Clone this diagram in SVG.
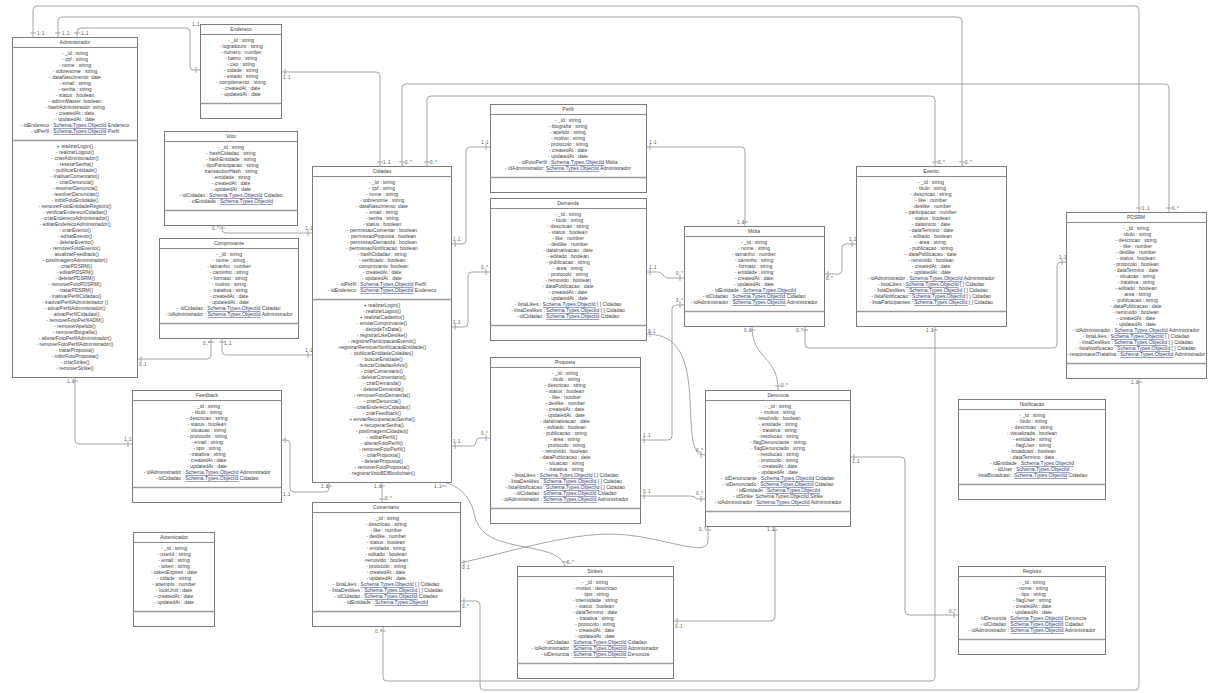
<svg xmlns="http://www.w3.org/2000/svg" width="1214" height="693" viewBox="0 0 1214 693">
<style>
.box{fill:#fff;stroke:#7a7a7a;stroke-width:1}
.sep{stroke:#8a8a8a;stroke-width:1}
.sep2{stroke:#9a9a9a;stroke-width:1.6}
text{font-family:"Liberation Sans",Arial,sans-serif;font-size:5px;fill:#3e3e3e;text-anchor:middle}
.r{text-decoration:underline;fill:#34407c}
.c{fill:none;stroke:#9a9a9a;stroke-width:0.9}
.m{font-size:4.6px;fill:#555;text-anchor:start}
</style>
<rect width="1214" height="693" fill="#fff"/>

<!-- associations -->
<g id="connectors">
<path class="c" d="M33,37 V10 Q33,6 37,6 H1135 Q1139,6 1139,10 V212 M30,33 H36 M1136,208 H1142"/>
<path class="c" d="M58,37 V21 Q58,17 62,17 H958 Q962,17 962,21 V166 M55,33 H61 M959,162 H965"/>
<path class="c" d="M77,37 V32 Q77,28 81,28 H186 Q190,28 190,32 V66 Q190,70 194,70 H200 M74,33 H80 M196,67 V73"/>
<path class="c" d="M281,72 H376 Q380,72 380,76 V166 M285,69 V75 M377,162 H383"/>
<path class="c" d="M402,166 V88 Q402,84 406,84 H1165 Q1169,84 1169,88 V212 M399,162 H405 M1166,208 H1172"/>
<path class="c" d="M427,166 V100 Q427,96 431,96 H931 Q935,96 935,100 V166 M424,162 H430 M932,162 H938"/>
<path class="c" d="M451,244 H462 Q466,244 466,240 V151 Q466,147 470,147 H490 M455,241 V247 M486,144 V150"/>
<path class="c" d="M451,327 H464 Q468,327 468,323 V276 Q468,272 472,272 H490 M455,324 V330 M486,269 V275"/>
<path class="c" d="M451,446 H472 Q476,446 476,442 Q476,438 480,438 H490 M455,443 V449 M486,435 V441"/>
<path class="c" d="M646,147 H741 Q745,147 745,151 V226 M650,144 V150 M742,222 H748"/>
<path class="c" d="M646,272 H658 C663,272 663,278 668,278 H684 M650,269 V275 M680,275 V281"/>
<path class="c" d="M640,440 H668 Q672,440 672,436 V309 Q672,305 676,305 H684 M644,437 V443 M680,302 V308"/>
<path class="c" d="M646,334 C680,334 688,360 690,400 C692,440 692,455 705,455 M650,331 V337 M701,452 V458"/>
<path class="c" d="M640,496 H690 Q695,496 697,499 H705 M644,493 V499 M701,496 V502"/>
<path class="c" d="M752,326 C752,360 778,355 778,390 M749,330 H755 M775,386 H781"/>
<path class="c" d="M824,274 H838 Q842,274 842,270 V248 Q842,244 846,244 H856 M828,271 V277 M852,241 V247"/>
<path class="c" d="M805,326 V344 Q805,348 809,348 H1053 Q1057,348 1057,344 V266 Q1057,262 1061,262 H1066 M802,330 H808 M1062,259 V265"/>
<path class="c" d="M935,326 V677 Q935,681 931,681 H387 Q383,681 383,677 V627 M932,330 H938 M380,631 H386"/>
<path class="c" d="M1139,378 V686 Q1139,690 1135,690 H484 Q480,690 480,686 V605 Q480,601 476,601 H460 M1136,382 H1142 M464,598 V604"/>
<path class="c" d="M75,377 V440 Q75,444 79,444 H132 M72,381 H78 M128,441 V447"/>
<path class="c" d="M281,440 H286 Q290,440 290,444 V488 Q290,492 294,492 H325 Q329,492 329,488 V482 M285,437 V443 M326,486 H332"/>
<path class="c" d="M222,225 V229 Q222,233 226,233 H312 M219,228 H225 M308,230 V236"/>
<path class="c" d="M137,359 H207 Q211,359 211,355 V338 M141,356 V362 M208,342 H214"/>
<path class="c" d="M222,338 V351 Q222,355 226,355 H312 M219,342 H225 M308,352 V358"/>
<path class="c" d="M382,482 V503 M379,486 H385 M379,499 H385"/>
<path class="c" d="M444,482 C458,486 470,495 474,513 C478,533 490,540 520,546 C545,551 560,553 565,566 M441,486 H447 M562,562 H568"/>
<path class="c" d="M460,563 C530,547 585,528 635,536 C680,543 708,556 708,540 V526 M464,560 V566 M705,530 H711"/>
<path class="c" d="M850,457 H901 Q905,457 905,461 V611 Q905,615 909,615 H958 M854,454 V460 M954,612 V618"/>
<path class="c" d="M673,621 H771 Q775,621 775,617 V526 M677,618 V624 M772,530 H778"/>
</g>

<!-- multiplicities -->
<g id="multiplicities">
<text class="m" x="37" y="35">1..1</text>
<text class="m" x="1142" y="210">1..1</text>
<text class="m" x="62" y="35">1..1</text>
<text class="m" x="965" y="164">0..*</text>
<text class="m" x="81" y="35">1..1</text>
<text class="m" x="192" y="26">1..1</text>
<text class="m" x="283" y="79">1..1</text>
<text class="m" x="383" y="164">1..1</text>
<text class="m" x="405" y="164">0..*</text>
<text class="m" x="1172" y="210">0..*</text>
<text class="m" x="430" y="164">0..*</text>
<text class="m" x="938" y="164">0..*</text>
<text class="m" x="453" y="241">1..1</text>
<text class="m" x="481" y="144">1..1</text>
<text class="m" x="453" y="324">1..1</text>
<text class="m" x="481" y="269">0..*</text>
<text class="m" x="453" y="443">1..1</text>
<text class="m" x="481" y="435">0..*</text>
<text class="m" x="649" y="144">1..1</text>
<text class="m" x="737" y="224">1..1</text>
<text class="m" x="649" y="269">1..1</text>
<text class="m" x="676" y="275">0..*</text>
<text class="m" x="643" y="437">1..1</text>
<text class="m" x="676" y="302">0..*</text>
<text class="m" x="648" y="333">0..1</text>
<text class="m" x="696" y="452">0..*</text>
<text class="m" x="643" y="493">0..1</text>
<text class="m" x="696" y="495">0..*</text>
<text class="m" x="744" y="332">0..1</text>
<text class="m" x="781" y="387">0..*</text>
<text class="m" x="826" y="280">0..*</text>
<text class="m" x="849" y="241">1..1</text>
<text class="m" x="796" y="332">0..*</text>
<text class="m" x="1059" y="259">1..1</text>
<text class="m" x="926" y="332">1..1</text>
<text class="m" x="375" y="633">0..*</text>
<text class="m" x="1131" y="384">1..1</text>
<text class="m" x="462" y="608">0..*</text>
<text class="m" x="67" y="383">1..1</text>
<text class="m" x="124" y="441">1..1</text>
<text class="m" x="283" y="496">1..1</text>
<text class="m" x="321" y="488">1..1</text>
<text class="m" x="212" y="230">0..*</text>
<text class="m" x="305" y="230">1..1</text>
<text class="m" x="139" y="366">0..1</text>
<text class="m" x="203" y="345">0..*</text>
<text class="m" x="224" y="345">1..1</text>
<text class="m" x="305" y="352">1..1</text>
<text class="m" x="374" y="488">1..1</text>
<text class="m" x="385" y="500">0..*</text>
<text class="m" x="434" y="488">1..1</text>
<text class="m" x="567" y="564">0..*</text>
<text class="m" x="462" y="569">0..1</text>
<text class="m" x="699" y="531">0..*</text>
<text class="m" x="852" y="463">1..1</text>
<text class="m" x="949" y="613">0..*</text>
<text class="m" x="675" y="628">0..1</text>
<text class="m" x="767" y="531">1..1</text>
</g>

<g id="administrador">
<rect class="box" x="12.5" y="37.5" width="125" height="340"/>
<line class="sep" x1="12.5" y1="47.5" x2="137.5" y2="47.5"/>
<line class="sep2" x1="12.5" y1="140.5" x2="137.5" y2="140.5"/>
<text x="75" y="44">Administrador</text>
<text x="75" y="49"><tspan x="75" dy="6">- _id : string</tspan><tspan x="75" dy="6">- cpf : string</tspan><tspan x="75" dy="6">- nome : string</tspan><tspan x="75" dy="6">- sobrenome : string</tspan><tspan x="75" dy="6">- dataNascimento: date</tspan><tspan x="75" dy="6">- email : string</tspan><tspan x="75" dy="6">- senha : string</tspan><tspan x="75" dy="6">- status : boolean</tspan><tspan x="75" dy="6">- adminMaster: boolean</tspan><tspan x="75" dy="6">- hashAdministrador: string</tspan><tspan x="75" dy="6">- createdAt : date</tspan><tspan x="75" dy="6">- updatedAt : date</tspan><tspan x="75" dy="6">- idEndereco : <tspan class="r">Schema.Types.ObjectId</tspan> Endereco</tspan><tspan x="75" dy="6">- idPerfil : <tspan class="r">Schema.Types.ObjectId</tspan> Perfil</tspan></text>
<text x="75" y="142"><tspan x="75" dy="6">+ realizarLogin()</tspan><tspan x="75" dy="6">- realizarLogout()</tspan><tspan x="75" dy="6">- criarAdministrador()</tspan><tspan x="75" dy="6">- resetarSenha()</tspan><tspan x="75" dy="6">- publicarEntidade()</tspan><tspan x="75" dy="6">- inativarComentario()</tspan><tspan x="75" dy="6">- criarDenuncia()</tspan><tspan x="75" dy="6">- resolverDenuncia()</tspan><tspan x="75" dy="6">- resolverDenuncias()</tspan><tspan x="75" dy="6">- inibirFotoEntidade()</tspan><tspan x="75" dy="6">- removerFotoEntidadeRegistro()</tspan><tspan x="75" dy="6">- verificarEnderecoCidadao()</tspan><tspan x="75" dy="6">- criarEnderecoAdministrador()</tspan><tspan x="75" dy="6">- editarEnderecoAdministrador()</tspan><tspan x="75" dy="6">- criarEvento()</tspan><tspan x="75" dy="6">- editarEvento()</tspan><tspan x="75" dy="6">- deletarEvento()</tspan><tspan x="75" dy="6">- removerFotoEvento()</tspan><tspan x="75" dy="6">- atualizarFeedback()</tspan><tspan x="75" dy="6">- postImagemAdministrador()</tspan><tspan x="75" dy="6">- criarPDSRM()</tspan><tspan x="75" dy="6">- editarPDSRM()</tspan><tspan x="75" dy="6">- deletarPDSRM()</tspan><tspan x="75" dy="6">- removerFotoPDSRM()</tspan><tspan x="75" dy="6">- tratarPDSRM()</tspan><tspan x="75" dy="6">- inativarPerfilCidadao()</tspan><tspan x="75" dy="6">- inativarPerfilAdministrador ()</tspan><tspan x="75" dy="6">- ativarPerfilAdministrador()</tspan><tspan x="75" dy="6">- ativarPerfilCidadao()</tspan><tspan x="75" dy="6">- removerFotoPerfilADM()</tspan><tspan x="75" dy="6">- removerApelido()</tspan><tspan x="75" dy="6">- removerBiografia()</tspan><tspan x="75" dy="6">- alterarFotoPerfilAdministrador()</tspan><tspan x="75" dy="6">- removerFotoPerfilAdministrador()</tspan><tspan x="75" dy="6">- tratarProposta()</tspan><tspan x="75" dy="6">- inibirFotoProposta()</tspan><tspan x="75" dy="6">- criarStrike()</tspan><tspan x="75" dy="6">- removerStrike()</tspan></text>
</g>

<g id="endereco">
<rect class="box" x="200.5" y="24.5" width="81" height="94"/>
<line class="sep" x1="200.5" y1="34.5" x2="281.5" y2="34.5"/>
<line class="sep2" x1="200.5" y1="103.5" x2="281.5" y2="103.5"/>
<text x="241" y="31">Endereco</text>
<text x="241" y="36"><tspan x="241" dy="6">- _id : string</tspan><tspan x="241" dy="6">- logradouro : string</tspan><tspan x="241" dy="6">- numero : number</tspan><tspan x="241" dy="6">- bairro : string</tspan><tspan x="241" dy="6">- cep : string</tspan><tspan x="241" dy="6">- cidade : string</tspan><tspan x="241" dy="6">- estado : string</tspan><tspan x="241" dy="6">- complemento : string</tspan><tspan x="241" dy="6">- createdAt : date</tspan><tspan x="241" dy="6">- updatedAt : date</tspan></text>
</g>

<g id="voto">
<rect class="box" x="164.5" y="131.5" width="133" height="94"/>
<line class="sep" x1="164.5" y1="141.5" x2="297.5" y2="141.5"/>
<line class="sep2" x1="164.5" y1="210.5" x2="297.5" y2="210.5"/>
<text x="231" y="138">Voto</text>
<text x="231" y="143"><tspan x="231" dy="6">- _id : string</tspan><tspan x="231" dy="6">- hashCidadao : string</tspan><tspan x="231" dy="6">- hashEntidade : string</tspan><tspan x="231" dy="6">- tipoParticipacao : string</tspan><tspan x="231" dy="6">transactionHash : string</tspan><tspan x="231" dy="6">- entidade : string</tspan><tspan x="231" dy="6">- createdAt : date</tspan><tspan x="231" dy="6">- updatedAt : date</tspan><tspan x="231" dy="6">- idCidadao : <tspan class="r">Schema.Types.ObjectId</tspan> Cidadao</tspan><tspan x="231" dy="6">- idEntidade : <tspan class="r">Schema.Types.ObjectId</tspan></tspan></text>
</g>

<g id="comprovante">
<rect class="box" x="159.5" y="238.5" width="139" height="100"/>
<line class="sep" x1="159.5" y1="248.5" x2="298.5" y2="248.5"/>
<line class="sep2" x1="159.5" y1="323.5" x2="298.5" y2="323.5"/>
<text x="229" y="245">Comprovante</text>
<text x="229" y="250"><tspan x="229" dy="6">- _id : string</tspan><tspan x="229" dy="6">- nome : string</tspan><tspan x="229" dy="6">- tamanho : number</tspan><tspan x="229" dy="6">- caminho : string</tspan><tspan x="229" dy="6">- formato : string</tspan><tspan x="229" dy="6">- motivo : string</tspan><tspan x="229" dy="6">- tratativa : string</tspan><tspan x="229" dy="6">- createdAt : date</tspan><tspan x="229" dy="6">- updatedAt : date</tspan><tspan x="229" dy="6">- idCidadao : <tspan class="r">Schema.Types.ObjectId</tspan> Cidadao</tspan><tspan x="229" dy="6">- idAdministrador : <tspan class="r">Schema.Types.ObjectId</tspan> Administrador</tspan></text>
</g>

<g id="cidadao">
<rect class="box" x="312.5" y="166.5" width="139" height="316"/>
<line class="sep" x1="312.5" y1="176.5" x2="451.5" y2="176.5"/>
<line class="sep2" x1="312.5" y1="299.5" x2="451.5" y2="299.5"/>
<text x="382" y="173">Cidadao</text>
<text x="382" y="178"><tspan x="382" dy="6">- _id : string</tspan><tspan x="382" dy="6">- cpf : string</tspan><tspan x="382" dy="6">- nome : string</tspan><tspan x="382" dy="6">- sobrenome : string</tspan><tspan x="382" dy="6">- dataNascimento: date</tspan><tspan x="382" dy="6">- email : string</tspan><tspan x="382" dy="6">- senha : string</tspan><tspan x="382" dy="6">- status : boolean</tspan><tspan x="382" dy="6">- permissaoComentar : boolean</tspan><tspan x="382" dy="6">- permissaoProposta : boolean</tspan><tspan x="382" dy="6">- permissaoDemanda : boolean</tspan><tspan x="382" dy="6">- permissaoNotificacao: boolean</tspan><tspan x="382" dy="6">- hashCidadao : string</tspan><tspan x="382" dy="6">- verificado : boolean</tspan><tspan x="382" dy="6">- comprovante: boolean</tspan><tspan x="382" dy="6">- createdAt : date</tspan><tspan x="382" dy="6">- updatedAt : date</tspan><tspan x="382" dy="6">- idPerfil : <tspan class="r">Schema.Types.ObjectId</tspan> Perfil</tspan><tspan x="382" dy="6">- idEndereco : <tspan class="r">Schema.Types.ObjectId</tspan> Endereco</tspan></text>
<text x="382" y="301"><tspan x="382" dy="6">+ realizarLogin()</tspan><tspan x="382" dy="6">- realizarLogout()</tspan><tspan x="382" dy="6">+ realizarCadastro()</tspan><tspan x="382" dy="6">- enviarComprovante()</tspan><tspan x="382" dy="6">- decodeTxData()</tspan><tspan x="382" dy="6">- registrarLikeDeslike()</tspan><tspan x="382" dy="6">- registrarParticipacaoEvento()</tspan><tspan x="382" dy="6">-registrarRemoverNotificacaoEntidade()</tspan><tspan x="382" dy="6">- publicarEntidadeCidadao()</tspan><tspan x="382" dy="6">- buscarEntidade()</tspan><tspan x="382" dy="6">- buscarCidadaoAtivo()</tspan><tspan x="382" dy="6">- criarComentario()</tspan><tspan x="382" dy="6">- deletarComentario()</tspan><tspan x="382" dy="6">- criarDemanda()</tspan><tspan x="382" dy="6">- deletarDemanda()</tspan><tspan x="382" dy="6">- removerFotoDemanda()</tspan><tspan x="382" dy="6">- criarDenuncia()</tspan><tspan x="382" dy="6">- criarEnderecoCidadao()</tspan><tspan x="382" dy="6">- criarFeedback()</tspan><tspan x="382" dy="6">+ enviarRecuperacaoSenha()</tspan><tspan x="382" dy="6">+ recuperarSenha()</tspan><tspan x="382" dy="6">- postImagemCidadao()</tspan><tspan x="382" dy="6">- editarPerfil()</tspan><tspan x="382" dy="6">- alterarFotoPerfil()</tspan><tspan x="382" dy="6">- removerFotoPerfil()</tspan><tspan x="382" dy="6">- criarProposta()</tspan><tspan x="382" dy="6">- deletarProposta()</tspan><tspan x="382" dy="6">- removerFotoProposta()</tspan><tspan x="382" dy="6">- registrarVotoBDBlockchain()</tspan></text>
</g>

<g id="perfil">
<rect class="box" x="490.5" y="104.5" width="156" height="88"/>
<line class="sep" x1="490.5" y1="114.5" x2="646.5" y2="114.5"/>
<line class="sep2" x1="490.5" y1="177.5" x2="646.5" y2="177.5"/>
<text x="568" y="111">Perfil</text>
<text x="568" y="116"><tspan x="568" dy="6">- _id : string</tspan><tspan x="568" dy="6">- biografia : string</tspan><tspan x="568" dy="6">- apelido : string</tspan><tspan x="568" dy="6">- motivo : string</tspan><tspan x="568" dy="6">- protocolo : string</tspan><tspan x="568" dy="6">- createdAt : date</tspan><tspan x="568" dy="6">- updatedAt : date</tspan><tspan x="568" dy="6">- idFotoPerfil : <tspan class="r">Schema.Types.ObjectId</tspan> Midia</tspan><tspan x="568" dy="6">- idAdministrador: <tspan class="r">Schema.Types.ObjectId</tspan> Administrador</tspan></text>
</g>

<g id="demanda">
<rect class="box" x="490.5" y="198.5" width="156" height="142"/>
<line class="sep" x1="490.5" y1="208.5" x2="646.5" y2="208.5"/>
<line class="sep2" x1="490.5" y1="325.5" x2="646.5" y2="325.5"/>
<text x="568" y="205">Demanda</text>
<text x="568" y="210"><tspan x="568" dy="6">- _id : string</tspan><tspan x="568" dy="6">- titulo : string</tspan><tspan x="568" dy="6">- descricao : string</tspan><tspan x="568" dy="6">- status : boolean</tspan><tspan x="568" dy="6">- like : number</tspan><tspan x="568" dy="6">- deslike : number</tspan><tspan x="568" dy="6">- dataInativacao : date</tspan><tspan x="568" dy="6">- editado : boolean</tspan><tspan x="568" dy="6">- publicacao : string</tspan><tspan x="568" dy="6">- area : string</tspan><tspan x="568" dy="6">- protocolo : string</tspan><tspan x="568" dy="6">- removido : boolean</tspan><tspan x="568" dy="6">- dataPublicacao : date</tspan><tspan x="568" dy="6">- createdAt : date</tspan><tspan x="568" dy="6">- updatedAt : date</tspan><tspan x="568" dy="6">- listaLikes : <tspan class="r">Schema.Types.ObjectId</tspan> [ ] Cidadao</tspan><tspan x="568" dy="6">- listaDeslikes : <tspan class="r">Schema.Types.ObjectId</tspan> [ ] Cidadao</tspan><tspan x="568" dy="6">- idCidadao : <tspan class="r">Schema.Types.ObjectId</tspan> Cidadao</tspan></text>
</g>

<g id="proposta">
<rect class="box" x="490.5" y="357.5" width="150" height="166"/>
<line class="sep" x1="490.5" y1="367.5" x2="640.5" y2="367.5"/>
<line class="sep2" x1="490.5" y1="508.5" x2="640.5" y2="508.5"/>
<text x="565" y="364">Proposta</text>
<text x="565" y="369"><tspan x="565" dy="6">- _id : string</tspan><tspan x="565" dy="6">- titulo : string</tspan><tspan x="565" dy="6">- descricao : string</tspan><tspan x="565" dy="6">- status : boolean</tspan><tspan x="565" dy="6">- like : number</tspan><tspan x="565" dy="6">- deslike : number</tspan><tspan x="565" dy="6">- createdAt : date</tspan><tspan x="565" dy="6">- updatedAt : date</tspan><tspan x="565" dy="6">- dataInativacao : date</tspan><tspan x="565" dy="6">- editado : boolean</tspan><tspan x="565" dy="6">- publicacao : string</tspan><tspan x="565" dy="6">- area : string</tspan><tspan x="565" dy="6">- protocolo : string</tspan><tspan x="565" dy="6">- removido : boolean</tspan><tspan x="565" dy="6">- dataPublicacao : date</tspan><tspan x="565" dy="6">- situacao : string</tspan><tspan x="565" dy="6">- tratativa : string</tspan><tspan x="565" dy="6">- listaLikes : <tspan class="r">Schema.Types.ObjectId</tspan> [ ] Cidadao</tspan><tspan x="565" dy="6">- listaDeslikes : <tspan class="r">Schema.Types.ObjectId</tspan> [ ] Cidadao</tspan><tspan x="565" dy="6">- listaNotificacao : <tspan class="r">Schema.Types.ObjectId</tspan> [ ] Cidadao</tspan><tspan x="565" dy="6">- idCidadao : <tspan class="r">Schema.Types.ObjectId</tspan> Cidadao</tspan><tspan x="565" dy="6">- idAdministrador : <tspan class="r">Schema.Types.ObjectId</tspan> Administrador</tspan></text>
</g>

<g id="midia">
<rect class="box" x="684.5" y="226.5" width="140" height="100"/>
<line class="sep" x1="684.5" y1="236.5" x2="824.5" y2="236.5"/>
<line class="sep2" x1="684.5" y1="311.5" x2="824.5" y2="311.5"/>
<text x="754" y="233">Midia</text>
<text x="754" y="238"><tspan x="754" dy="6">- _id : string</tspan><tspan x="754" dy="6">- nome : string</tspan><tspan x="754" dy="6">- tamanho : number</tspan><tspan x="754" dy="6">- caminho : string</tspan><tspan x="754" dy="6">- formato : string</tspan><tspan x="754" dy="6">- entidade : string</tspan><tspan x="754" dy="6">- createdAt : date</tspan><tspan x="754" dy="6">- updatedAt : date</tspan><tspan x="754" dy="6">- idEntidade : <tspan class="r">Schema.Types.ObjectId</tspan></tspan><tspan x="754" dy="6">- idCidadao : <tspan class="r">Schema.Types.ObjectId</tspan> Cidadao</tspan><tspan x="754" dy="6">- idAdministrador : <tspan class="r">Schema.Types.ObjectId</tspan> Administrador</tspan></text>
</g>

<g id="evento">
<rect class="box" x="856.5" y="166.5" width="150" height="160"/>
<line class="sep" x1="856.5" y1="176.5" x2="1006.5" y2="176.5"/>
<line class="sep2" x1="856.5" y1="311.5" x2="1006.5" y2="311.5"/>
<text x="931" y="173">Evento</text>
<text x="931" y="178"><tspan x="931" dy="6">- _id : string</tspan><tspan x="931" dy="6">- titulo : string</tspan><tspan x="931" dy="6">- descricao : string</tspan><tspan x="931" dy="6">- like : number</tspan><tspan x="931" dy="6">- deslike : number</tspan><tspan x="931" dy="6">- participacao : number</tspan><tspan x="931" dy="6">- status : boolean</tspan><tspan x="931" dy="6">- dataInicio : date</tspan><tspan x="931" dy="6">- dataTermino : date</tspan><tspan x="931" dy="6">- editado : boolean</tspan><tspan x="931" dy="6">- area : string</tspan><tspan x="931" dy="6">- publicacao : string</tspan><tspan x="931" dy="6">- dataPublicacao : date</tspan><tspan x="931" dy="6">- removido : boolean</tspan><tspan x="931" dy="6">- createdAt : date</tspan><tspan x="931" dy="6">- updatedAt : date</tspan><tspan x="931" dy="6">- idAdministrador : <tspan class="r">Schema.Types.ObjectId</tspan> Administrador</tspan><tspan x="931" dy="6">- listaLikes : <tspan class="r">Schema.Types.ObjectId</tspan> [ ] Cidadao</tspan><tspan x="931" dy="6">- listaDeslikes : <tspan class="r">Schema.Types.ObjectId</tspan> [ ] Cidadao</tspan><tspan x="931" dy="6">- listaNotificacao : <tspan class="r">Schema.Types.ObjectId</tspan> [ ] Cidadao</tspan><tspan x="931" dy="6">- listaParticipantes : <tspan class="r">Schema.Types.ObjectId</tspan> [ ] Cidadao</tspan></text>
</g>

<g id="pdsrm">
<rect class="box" x="1066.5" y="212.5" width="140" height="166"/>
<line class="sep" x1="1066.5" y1="222.5" x2="1206.5" y2="222.5"/>
<line class="sep2" x1="1066.5" y1="363.5" x2="1206.5" y2="363.5"/>
<text x="1136" y="219">PDSRM</text>
<text x="1136" y="224"><tspan x="1136" dy="6">- _id : string</tspan><tspan x="1136" dy="6">- titulo : string</tspan><tspan x="1136" dy="6">- descricao : string</tspan><tspan x="1136" dy="6">- like : number</tspan><tspan x="1136" dy="6">- deslike : number</tspan><tspan x="1136" dy="6">- status : boolean</tspan><tspan x="1136" dy="6">- protocolo : boolean</tspan><tspan x="1136" dy="6">- dataTermino : date</tspan><tspan x="1136" dy="6">- situacao : string</tspan><tspan x="1136" dy="6">- tratativa : string</tspan><tspan x="1136" dy="6">- editado : boolean</tspan><tspan x="1136" dy="6">- area : string</tspan><tspan x="1136" dy="6">- publicacao : string</tspan><tspan x="1136" dy="6">- dataPublicacao : date</tspan><tspan x="1136" dy="6">- removido : boolean</tspan><tspan x="1136" dy="6">- createdAt : date</tspan><tspan x="1136" dy="6">- updatedAt : date</tspan><tspan x="1136" dy="6">- idAdministrador : <tspan class="r">Schema.Types.ObjectId</tspan> Administrador</tspan><tspan x="1136" dy="6">- listaLikes : <tspan class="r">Schema.Types.ObjectId</tspan> [ ] Cidadao</tspan><tspan x="1136" dy="6">- listaDeslikes : <tspan class="r">Schema.Types.ObjectId</tspan> [ ] Cidadao</tspan><tspan x="1136" dy="6">- listaNotificacao : <tspan class="r">Schema.Types.ObjectId</tspan> [ ] Cidadao</tspan><tspan x="1136" dy="6">- responsavelTratativa : <tspan class="r">Schema.Types.ObjectId</tspan> Administrador</tspan></text>
</g>

<g id="denuncia">
<rect class="box" x="705.5" y="390.5" width="145" height="136"/>
<line class="sep" x1="705.5" y1="400.5" x2="850.5" y2="400.5"/>
<line class="sep2" x1="705.5" y1="511.5" x2="850.5" y2="511.5"/>
<text x="778" y="397">Denuncia</text>
<text x="778" y="402"><tspan x="778" dy="6">- _id : string</tspan><tspan x="778" dy="6">- motivo : string</tspan><tspan x="778" dy="6">- resolvido : boolean</tspan><tspan x="778" dy="6">- entidade : string</tspan><tspan x="778" dy="6">- tratativa : string</tspan><tspan x="778" dy="6">- resolucao : string</tspan><tspan x="778" dy="6">- flagDenunciante : string</tspan><tspan x="778" dy="6">- flagDenunciado : string</tspan><tspan x="778" dy="6">- resolucao : string</tspan><tspan x="778" dy="6">- protocolo : string</tspan><tspan x="778" dy="6">- createdAt : date</tspan><tspan x="778" dy="6">- updatedAt : date</tspan><tspan x="778" dy="6">- idDenunciante : <tspan class="r">Schema.Types.ObjectId</tspan> Cidadao</tspan><tspan x="778" dy="6">- idDenunciado : <tspan class="r">Schema.Types.ObjectId</tspan> Cidadao</tspan><tspan x="778" dy="6">- idEntidade : <tspan class="r">Schema.Types.ObjectId</tspan></tspan><tspan x="778" dy="6">- idStrike: Schema.Types.ObjectId Strike</tspan><tspan x="778" dy="6">- idAdministrador : <tspan class="r">Schema.Types.ObjectId</tspan> Administrador</tspan></text>
</g>

<g id="notificacao">
<rect class="box" x="958.5" y="399.5" width="147" height="100"/>
<line class="sep" x1="958.5" y1="409.5" x2="1105.5" y2="409.5"/>
<line class="sep2" x1="958.5" y1="484.5" x2="1105.5" y2="484.5"/>
<text x="1032" y="406">Notificacao</text>
<text x="1032" y="411"><tspan x="1032" dy="6">- _id : string</tspan><tspan x="1032" dy="6">- titulo : string</tspan><tspan x="1032" dy="6">- descricao : string</tspan><tspan x="1032" dy="6">- visualizada : boolean</tspan><tspan x="1032" dy="6">- entidade : string</tspan><tspan x="1032" dy="6">- flagUser : string</tspan><tspan x="1032" dy="6">- broadcast : boolean</tspan><tspan x="1032" dy="6">- dataTermino : date</tspan><tspan x="1032" dy="6">- idEntidade : <tspan class="r">Schema.Types.ObjectId</tspan></tspan><tspan x="1032" dy="6">- idUser : <tspan class="r">Schema.Types.ObjectId</tspan></tspan><tspan x="1032" dy="6">-listaBroadcast : <tspan class="r">Schema.Types.ObjectId</tspan> Cidadao</tspan></text>
</g>

<g id="registro">
<rect class="box" x="958.5" y="566.5" width="147" height="88"/>
<line class="sep" x1="958.5" y1="576.5" x2="1105.5" y2="576.5"/>
<line class="sep2" x1="958.5" y1="639.5" x2="1105.5" y2="639.5"/>
<text x="1032" y="573">Registro</text>
<text x="1032" y="578"><tspan x="1032" dy="6">- _id : string</tspan><tspan x="1032" dy="6">- nome : string</tspan><tspan x="1032" dy="6">- tipo : string</tspan><tspan x="1032" dy="6">- flagUser : string</tspan><tspan x="1032" dy="6">- createdAt : date</tspan><tspan x="1032" dy="6">- updatedAt : date</tspan><tspan x="1032" dy="6">- idDenuncia : <tspan class="r">Schema.Types.ObjectId</tspan> Denuncia</tspan><tspan x="1032" dy="6">- idCidadao : <tspan class="r">Schema.Types.ObjectId</tspan> Cidadao</tspan><tspan x="1032" dy="6">- idAdministrador : <tspan class="r">Schema.Types.ObjectId</tspan> Administrador</tspan></text>
</g>

<g id="feedback">
<rect class="box" x="132.5" y="390.5" width="149" height="112"/>
<line class="sep" x1="132.5" y1="400.5" x2="281.5" y2="400.5"/>
<line class="sep2" x1="132.5" y1="487.5" x2="281.5" y2="487.5"/>
<text x="207" y="397">Feedback</text>
<text x="207" y="402"><tspan x="207" dy="6">- _id : string</tspan><tspan x="207" dy="6">- titulo : string</tspan><tspan x="207" dy="6">- descricao : string</tspan><tspan x="207" dy="6">- status : boolean</tspan><tspan x="207" dy="6">- situacao : string</tspan><tspan x="207" dy="6">- protocolo : string</tspan><tspan x="207" dy="6">- email : string</tspan><tspan x="207" dy="6">- tipo : string</tspan><tspan x="207" dy="6">- tratativa : string</tspan><tspan x="207" dy="6">- createdAt : date</tspan><tspan x="207" dy="6">- updatedAt : date</tspan><tspan x="207" dy="6">- idAdministrador : <tspan class="r">Schema.Types.ObjectId</tspan> Administrador</tspan><tspan x="207" dy="6">- idCidadao : <tspan class="r">Schema.Types.ObjectId</tspan> Cidadao</tspan></text>
</g>

<g id="autenticador">
<rect class="box" x="133.5" y="532.5" width="81" height="94"/>
<line class="sep" x1="133.5" y1="542.5" x2="214.5" y2="542.5"/>
<line class="sep2" x1="133.5" y1="611.5" x2="214.5" y2="611.5"/>
<text x="174" y="539">Autenticador</text>
<text x="174" y="544"><tspan x="174" dy="6">- _id : string</tspan><tspan x="174" dy="6">- userId : string</tspan><tspan x="174" dy="6">- email : string</tspan><tspan x="174" dy="6">- token : string</tspan><tspan x="174" dy="6">- tokenExpires : date</tspan><tspan x="174" dy="6">- cidade : string</tspan><tspan x="174" dy="6">- attempts : number</tspan><tspan x="174" dy="6">- lockUntil : date</tspan><tspan x="174" dy="6">- createdAt : date</tspan><tspan x="174" dy="6">- updatedAt : date</tspan></text>
</g>

<g id="comentario">
<rect class="box" x="312.5" y="502.5" width="148" height="124"/>
<line class="sep" x1="312.5" y1="512.5" x2="460.5" y2="512.5"/>
<line class="sep2" x1="312.5" y1="611.5" x2="460.5" y2="611.5"/>
<text x="386" y="509">Comentario</text>
<text x="386" y="514"><tspan x="386" dy="6">- _id : string</tspan><tspan x="386" dy="6">- descricao : string</tspan><tspan x="386" dy="6">- like : number</tspan><tspan x="386" dy="6">- deslike : number</tspan><tspan x="386" dy="6">- status : boolean</tspan><tspan x="386" dy="6">- entidade : string</tspan><tspan x="386" dy="6">- editado : boolean</tspan><tspan x="386" dy="6">-removido : boolean</tspan><tspan x="386" dy="6">- protocolo : string</tspan><tspan x="386" dy="6">- createdAt : date</tspan><tspan x="386" dy="6">- updatedAt : date</tspan><tspan x="386" dy="6">- listaLikes : <tspan class="r">Schema.Types.ObjectId</tspan> [ ] Cidadao</tspan><tspan x="386" dy="6">- listaDeslikes : <tspan class="r">Schema.Types.ObjectId</tspan> [ ] Cidadao</tspan><tspan x="386" dy="6">- idCidadao : <tspan class="r">Schema.Types.ObjectId</tspan> Cidadao</tspan><tspan x="386" dy="6">- idEntidade : <tspan class="r">Schema.Types.ObjectId</tspan></tspan></text>
</g>

<g id="strikes">
<rect class="box" x="517.5" y="566.5" width="156" height="112"/>
<line class="sep" x1="517.5" y1="576.5" x2="673.5" y2="576.5"/>
<line class="sep2" x1="517.5" y1="663.5" x2="673.5" y2="663.5"/>
<text x="595" y="573">Strikes</text>
<text x="595" y="578"><tspan x="595" dy="6">- _id : string</tspan><tspan x="595" dy="6">- motivo : descricao</tspan><tspan x="595" dy="6">- tipo : string</tspan><tspan x="595" dy="6">- intensidade : string</tspan><tspan x="595" dy="6">- status : boolean</tspan><tspan x="595" dy="6">- dataTermino : date</tspan><tspan x="595" dy="6">- tratativa : string</tspan><tspan x="595" dy="6">- protocolo : string</tspan><tspan x="595" dy="6">- createdAt : date</tspan><tspan x="595" dy="6">- updatedAt : date</tspan><tspan x="595" dy="6">- idCidadao : <tspan class="r">Schema.Types.ObjectId</tspan> Cidadao</tspan><tspan x="595" dy="6">- idAdministrador : <tspan class="r">Schema.Types.ObjectId</tspan> Administrador</tspan><tspan x="595" dy="6">- idDenuncia : <tspan class="r">Schema.Types.ObjectId</tspan> Denuncia</tspan></text>
</g>
</svg>
